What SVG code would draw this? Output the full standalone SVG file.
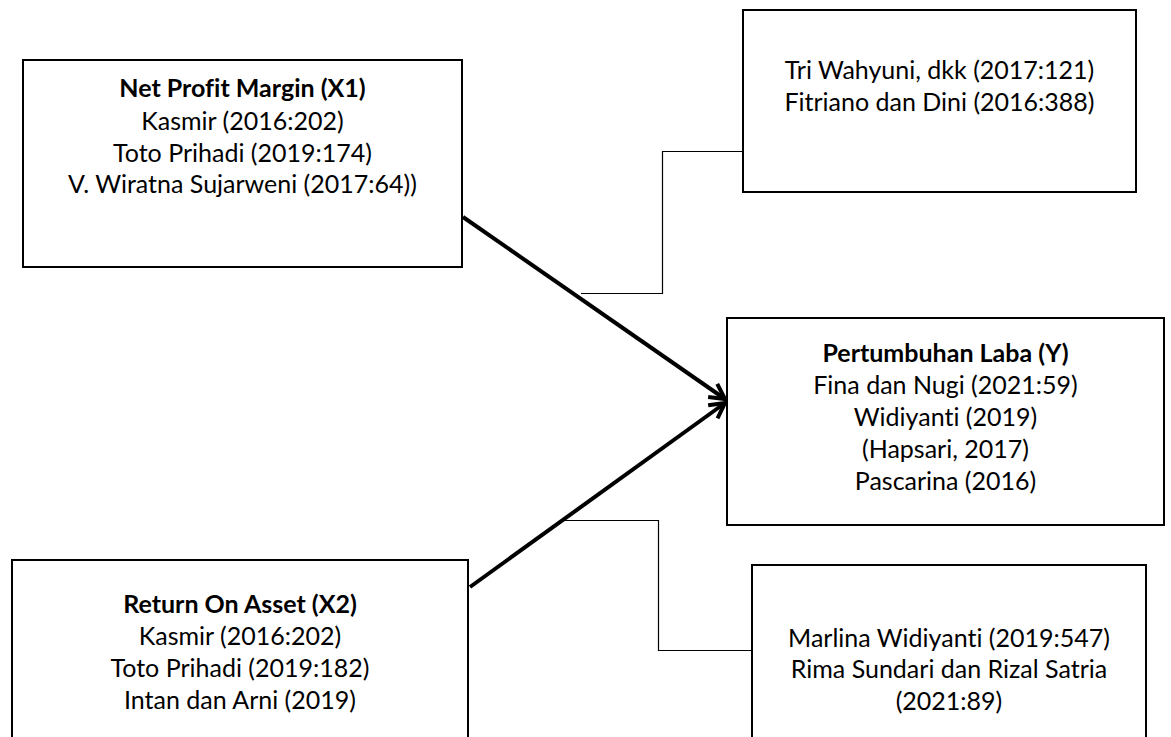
<svg xmlns="http://www.w3.org/2000/svg" width="1171" height="737" viewBox="0 0 1171 737">
  <style>
    .box { fill: #ffffff; stroke: #000000; stroke-width: 2; }
    .t { font-family: Lato, "Open Sans", "Liberation Sans", sans-serif; font-size: 25px; fill: #000000; text-anchor: middle; font-variant-ligatures: none; }
    .b { font-weight: bold; }
    .thick { stroke: #000000; stroke-width: 4; fill: none; }
    .thin { stroke: #000000; stroke-width: 1.2; fill: none; }
  </style>
  <defs>
    <marker id="arrow" markerUnits="userSpaceOnUse" markerWidth="24" markerHeight="24" viewBox="0 0 24 24" refX="18" refY="12" orient="auto">
      <path d="M3,4 L18,12 L3,20" fill="none" stroke="#000000" stroke-width="4" stroke-linejoin="miter"/>
    </marker>
  </defs>
  <rect width="1171" height="737" fill="#ffffff"/>

  <g id="connectors">
    <path class="thin" d="M581,293.5 L662.5,293.5 L662.5,151.5 L743,151.5"/>
    <path class="thin" d="M563,520.5 L658.5,520.5 L658.5,650.5 L752,650.5"/>
    <line class="thick" x1="463" y1="217" x2="725" y2="399" marker-end="url(#arrow)"/>
    <line class="thick" x1="470" y1="587" x2="725" y2="403" marker-end="url(#arrow)"/>
  </g>

  <g id="node-npm">
    <rect class="box" x="23" y="60" width="439" height="207"/>
    <text class="t b" x="242.5" y="97">Net Profit Margin (X1)</text>
    <text class="t" x="242.5" y="129.5">Kasmir (2016:202)</text>
    <text class="t" x="242.5" y="161.5">Toto Prihadi (2019:174)</text>
    <text class="t" x="242.5" y="193">V. Wiratna Sujarweni (2017:64))</text>
  </g>

  <g id="node-tri">
    <rect class="box" x="743" y="10" width="393" height="182"/>
    <text class="t" x="939.5" y="79">Tri Wahyuni, dkk (2017:121)</text>
    <text class="t" x="939.5" y="111">Fitriano dan Dini (2016:388)</text>
  </g>

  <g id="node-y">
    <rect class="box" x="727" y="318" width="437" height="207"/>
    <text class="t b" x="945.5" y="362">Pertumbuhan Laba (Y)</text>
    <text class="t" x="945.5" y="394">Fina dan Nugi (2021:59)</text>
    <text class="t" x="945.5" y="426">Widiyanti (2019)</text>
    <text class="t" x="945.5" y="458">(Hapsari, 2017)</text>
    <text class="t" x="945.5" y="490">Pascarina (2016)</text>
  </g>

  <g id="node-roa">
    <rect class="box" x="12" y="560" width="456" height="200"/>
    <text class="t b" x="240" y="613">Return On Asset (X2)</text>
    <text class="t" x="240" y="645">Kasmir (2016:202)</text>
    <text class="t" x="240" y="677">Toto Prihadi (2019:182)</text>
    <text class="t" x="240" y="709">Intan dan Arni (2019)</text>
  </g>

  <g id="node-marlina">
    <rect class="box" x="752" y="565" width="394" height="200"/>
    <text class="t" x="949" y="646.5">Marlina Widiyanti (2019:547)</text>
    <text class="t" x="949" y="678">Rima Sundari dan Rizal Satria</text>
    <text class="t" x="949" y="710">(2021:89)</text>
  </g>
</svg>
